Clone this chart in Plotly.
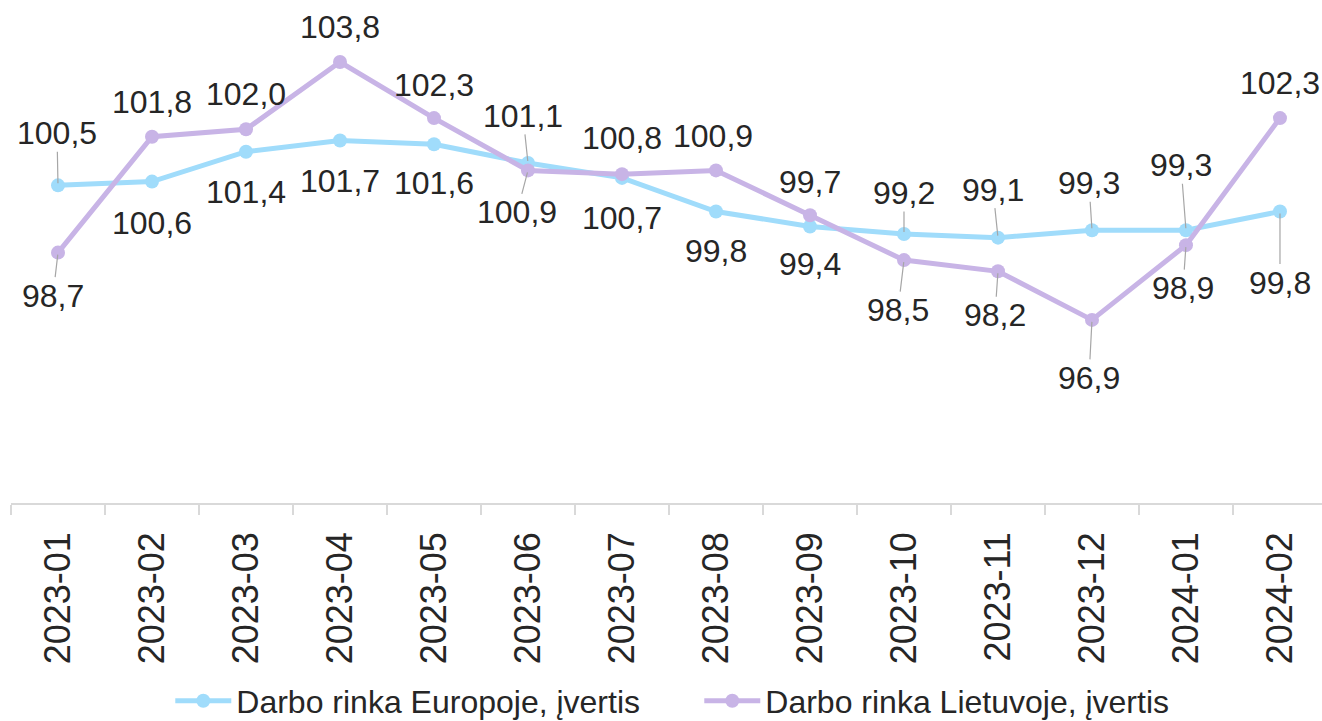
import plotly.graph_objects as go

categories = ["2023-01", "2023-02", "2023-03", "2023-04", "2023-05", "2023-06", "2023-07",
              "2023-08", "2023-09", "2023-10", "2023-11", "2023-12", "2024-01", "2024-02"]
europe = [100.5, 100.6, 101.4, 101.7, 101.6, 101.1, 100.7, 99.8, 99.4, 99.2, 99.1, 99.3, 99.3, 99.8]
lithuania = [98.7, 101.8, 102.0, 103.8, 102.3, 100.9, 100.8, 100.9, 99.7, 98.5, 98.2, 96.9, 98.9, 102.3]
series_names = ["Darbo rinka Europoje, įvertis", "Darbo rinka Lietuvoje, įvertis"]

# label placement (style): (dx, dy, leader)
eu_lab = [(-1, -52, True), (0, 41, False), (0, 40, False), (0, 40, False), (0, 39, False),
          (-5, -47, True), (0, 40, False), (0, 39, False), (0, 38, False), (0, -41, True),
          (-5, -48, True), (-3, -47, True), (-5, -65, True), (0, 71, True)]
lt_lab = [(-5, 43, True), (0, -35, False), (0, -35, False), (0, -35, False), (0, -33, False),
          (-11, 42, True), (0, -36, False), (-3, -34, False), (0, -33, False), (-6, 50, True),
          (-3, 44, True), (-3, 58, True), (-3, 43, True), (0, -35, False)]

BLUE = "#a0dcfb"
PURPLE = "#c8b4e6"
TXT = "#262626"
FONT = "Liberation Sans, Arial, sans-serif"

fig = go.Figure()
for name, vals, col in [(series_names[0], europe, BLUE), (series_names[1], lithuania, PURPLE)]:
    fig.add_trace(go.Scatter(
        x=categories, y=vals, name=name, mode="lines+markers",
        line=dict(color=col, width=5),
        marker=dict(color=col, size=14),
        cliponaxis=False,
    ))

def fmt(v):
    return f"{v:.1f}".replace(".", ",")

annotations = []
for vals, labs in [(europe, eu_lab), (lithuania, lt_lab)]:
    for c, v, (dx, dy, lead) in zip(categories, vals, labs):
        if lead:
            annotations.append(dict(
                x=c, y=v, text=fmt(v), showarrow=True, arrowhead=0, arrowwidth=1.2,
                arrowcolor="#a6a6a6", ax=dx, ay=dy, standoff=2,
                font=dict(size=32, color=TXT, family=FONT),
                borderpad=0,
            ))
        else:
            annotations.append(dict(
                x=c, y=v, text=fmt(v), showarrow=False, xshift=dx, yshift=-dy,
                font=dict(size=32, color=TXT, family=FONT),
            ))

fig.update_layout(
    width=1322, height=721,
    margin=dict(l=11, r=0, t=0, b=218, autoexpand=False),
    paper_bgcolor="white", plot_bgcolor="white",
    font=dict(family=FONT, color=TXT),
    showlegend=True,
    legend=dict(
        orientation="h", x=0.1215, xanchor="left", y=-0.3936, yanchor="middle",
        font=dict(size=32, color=TXT, family=FONT),
        itemwidth=56, entrywidth=458, entrywidthmode="pixels",
        bgcolor="rgba(0,0,0,0)", tracegroupgap=0,
    ),
    annotations=annotations,
)
fig.update_xaxes(
    type="category", range=[-0.5, 13.447], automargin=False,
    showgrid=False, showline=True, linecolor="#d9d9d9", linewidth=1.5,
    ticks="outside", tickson="boundaries", ticklen=10, tickcolor="#d9d9d9", tickwidth=1.5,
    tickangle=-90, tickfont=dict(size=36, color=TXT, family=FONT),
    ticklabelstandoff=13,
    zeroline=False,
)
fig.update_yaxes(
    range=[92, 105.46], showgrid=False, showline=False, showticklabels=False,
    zeroline=False, ticks="", automargin=False,
)

fig.write_html(
    "out.html",
    config={"displayModeBar": False},
    post_script="document.body.style.margin='0';document.body.style.overflow='hidden';",
)
